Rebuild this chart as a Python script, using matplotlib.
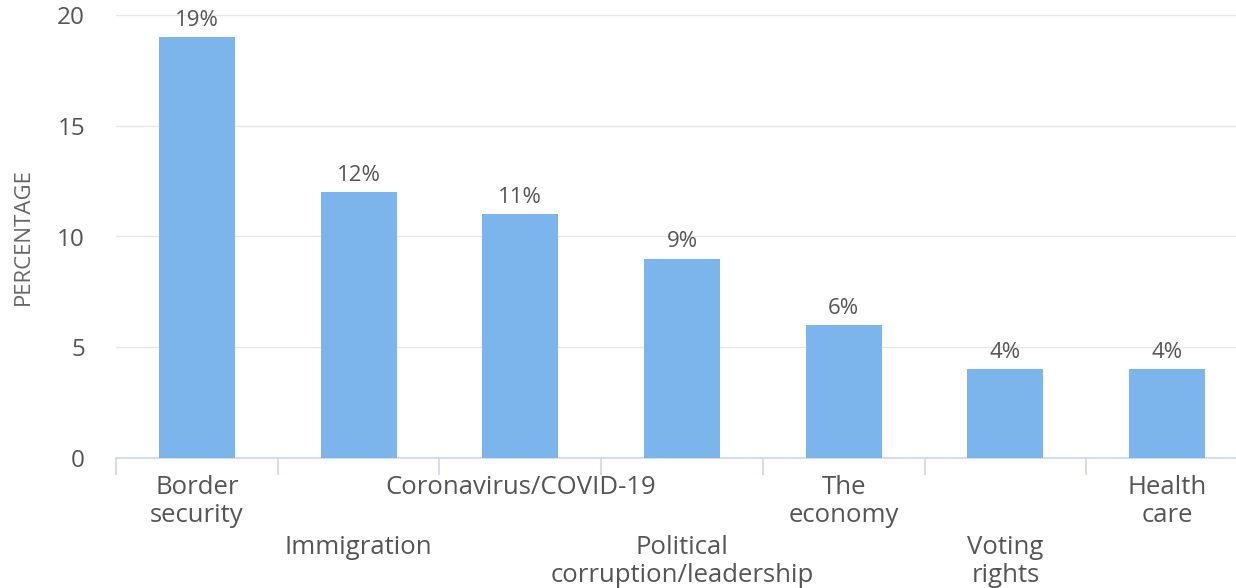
import matplotlib
matplotlib.use("Agg")
import matplotlib.pyplot as plt
import numpy as np

categories = ["Border\nsecurity", "Immigration", "Coronavirus/COVID-19",
              "Political\ncorruption/leadership", "The\neconomy",
              "Voting\nrights", "Health\ncare"]
values = [19, 12, 11, 9, 6, 4, 4]
value_labels = ["19%", "12%", "11%", "9%", "6%", "4%", "4%"]
yticks = [0, 5, 10, 15, 20]

plt.rcParams['font.family'] = ['Open Sans', 'DejaVu Sans']

W, H = 1236, 588
fig = plt.figure(figsize=(W / 100, H / 100), dpi=100)
left, right, top, bottom = 116, 1248, 15, 458
ax = fig.add_axes([left / W, (H - bottom) / H, (right - left) / W, (bottom - top) / H])
px = 72 / 100  # points per pixel

x = np.arange(len(categories))
ax.bar(x, values, width=0.47, color="#7cb5ec", zorder=3)
ax.set_xlim(-0.5, len(categories) - 0.5)
ax.set_ylim(0, 20)

ax.set_yticks(yticks)
ax.set_yticklabels([str(t) for t in yticks], fontsize=17.5, color="#555555")
ax.tick_params(axis="y", length=0, pad=31 * px)
ax.grid(axis="y", color="#e6e6e6", linewidth=1, zorder=0)

for s in ["top", "right", "left"]:
    ax.spines[s].set_visible(False)
ax.spines["bottom"].set_color("#ccd6eb")
ax.spines["bottom"].set_linewidth(1.2)

ax.set_xticks(np.arange(len(categories) + 1) - 0.5)
ax.set_xticklabels([])
ax.tick_params(axis="x", length=12, color="#ccd6eb", width=1.2)

for i, (lab, v, vl) in enumerate(zip(categories, values, value_labels)):
    ax.annotate(vl, xy=(i, v), xytext=(0, 17 * px), textcoords="offset points",
                ha="center", va="center", fontsize=16, color="#555555")
    start = 29 if i % 2 == 0 else 89
    for j, line in enumerate(lab.split("\n")):
        off = start + 29 * j
        ax.annotate(line, xy=(i, 0), xycoords=("data", "axes fraction"),
                    xytext=(0, -off * px), textcoords="offset points",
                    ha="center", va="center", fontsize=18.5, color="#555555",
                    annotation_clip=False)

ax.set_ylabel("PERCENTAGE", fontsize=16, color="#666666")
ax.yaxis.set_label_coords(-(116 - 34) / (right - left), 0.5)

fig.savefig("out.png", dpi=100)
